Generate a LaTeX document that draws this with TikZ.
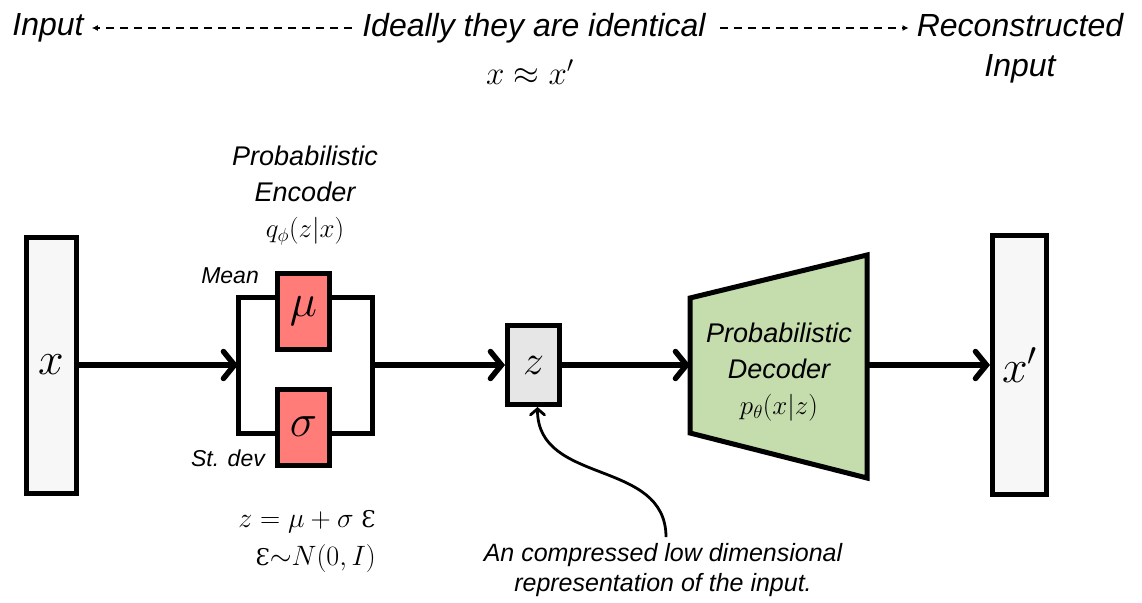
\documentclass[tikz,border=0pt]{standalone}
\usepackage{fix-cm}
\usepackage{fontspec}
\setmainfont{Liberation Sans}
\newfontfamily\epsfont{DejaVu Serif}
\usepackage{tikz}
\usetikzlibrary{arrows.meta}
\definecolor{salmon}{HTML}{FF7C78}
\definecolor{sage}{HTML}{C5DCAD}
\definecolor{paper}{HTML}{F7F7F7}
\definecolor{latent}{HTML}{E6E6E6}
\newcommand{\Ep}{\mbox{\fontsize{23}{23}\epsfont\upshape Ɛ}}

\begin{document}
\begin{tikzpicture}[x=1pt,y=-1pt,box/.style={draw,line width=5pt,inner sep=0pt,font=\fontsize{46}{46}\selectfont},label/.style={font=\fontsize{27}{36}\selectfont\itshape,align=center,inner sep=2pt},flow/.style={-{Straight Barb[length=11pt,width=27pt,line cap=round]},line width=5.5pt},ideal/.style={-{Latex[length=6pt,width=6pt]},line width=1.8pt,dash pattern=on 8pt off 6pt}]
\useasboundingbox (0,0) rectangle (1142,602);
\node[box,fill=paper,minimum width=50pt,minimum height=256pt] (xin) at (51,365) {$x$};
\node[box,fill=paper,minimum width=54pt,minimum height=259pt] (xout) at (1019.5,365) {$x'$};
\node[box,fill=salmon,minimum width=52pt,minimum height=76pt] (mu) at (303.5,311.5) {$\mu$};
\node[box,fill=salmon,minimum width=52pt,minimum height=76pt] (sigma) at (303.5,427) {$\sigma$};
\node[box,fill=latent,minimum width=52pt,minimum height=79pt,font=\fontsize{42}{42}\selectfont] (z) at (533.5,365) {$z$};
% encoder bracket
\coordinate (encin) at (238,365);
\coordinate (encout) at (372,365);
\draw[line width=5pt] (mu.west |- 0,297) -| (238,433) -- (sigma.west |- 0,433);
\draw[line width=5pt] (mu.east |- 0,297) -| (372,433) -- (sigma.east |- 0,433);
% decoder
\draw[line width=5pt,fill=sage,line join=miter] (690,298) -- (867,255) -- (867,478) -- (690,433) -- cycle;
\coordinate (decin) at (690,365);
\coordinate (decout) at (867,365);
\node[label] (dec) at (779,372) {Probabilistic\\Decoder\\$p_\theta(x|z)$};
\node[label] (enc) at (305,196) {Probabilistic\\Encoder\\$q_\phi(z|x)$};
\node[label,anchor=east,font=\fontsize{23}{26}\selectfont\itshape] (mean) at (261,276) {Mean};
\node[label,anchor=east,font=\fontsize{23}{26}\selectfont\itshape] (stdev) at (267,458) {St. dev};
\node[label,anchor=east,align=right,font=\fontsize{28}{38}\selectfont] (reparam) at (378,541) {$z=\mu+\sigma\;\Ep$\\$\Ep{\sim}N(0,I)$};
\node[label,font=\fontsize{25}{30}\selectfont\itshape] (note) at (663,570) {An compressed low dimensional\\representation of the input.};
% top labels
\node[label,font=\fontsize{32}{40}\selectfont\itshape] (input) at (48,28) {Input};
\node[label,font=\fontsize{32}{40}\selectfont\itshape] (same) at (534,28) {Ideally they are identical};
\node[label,font=\fontsize{32}{40}\selectfont\itshape] (recon) at (1020,48) {Reconstructed\\Input};
\node[label,font=\fontsize{33}{40}\selectfont] (approx) at (530,72) {$x\approx x'$};
\draw[ideal] ([xshift=-8pt]same.west) -- ([xshift=6pt]input.east);
\draw[ideal] ([xshift=12pt]same.east) -- ([xshift=-6pt]same.east -| recon.west);
% flow
\draw[flow] (xin.east) -- (encin);
\draw[flow] (encout) -- (z.west);
\draw[flow] (z.east) -- (decin);
\draw[flow] (decout) -- (xout.west);
\draw[line width=2.8pt,-{Straight Barb[length=6pt,width=14pt,line cap=round]}] (note.north) ++(3,-4) to[out=90,in=-90,looseness=1.1] ([xshift=4pt]z.south);
\end{tikzpicture}
\end{document}
